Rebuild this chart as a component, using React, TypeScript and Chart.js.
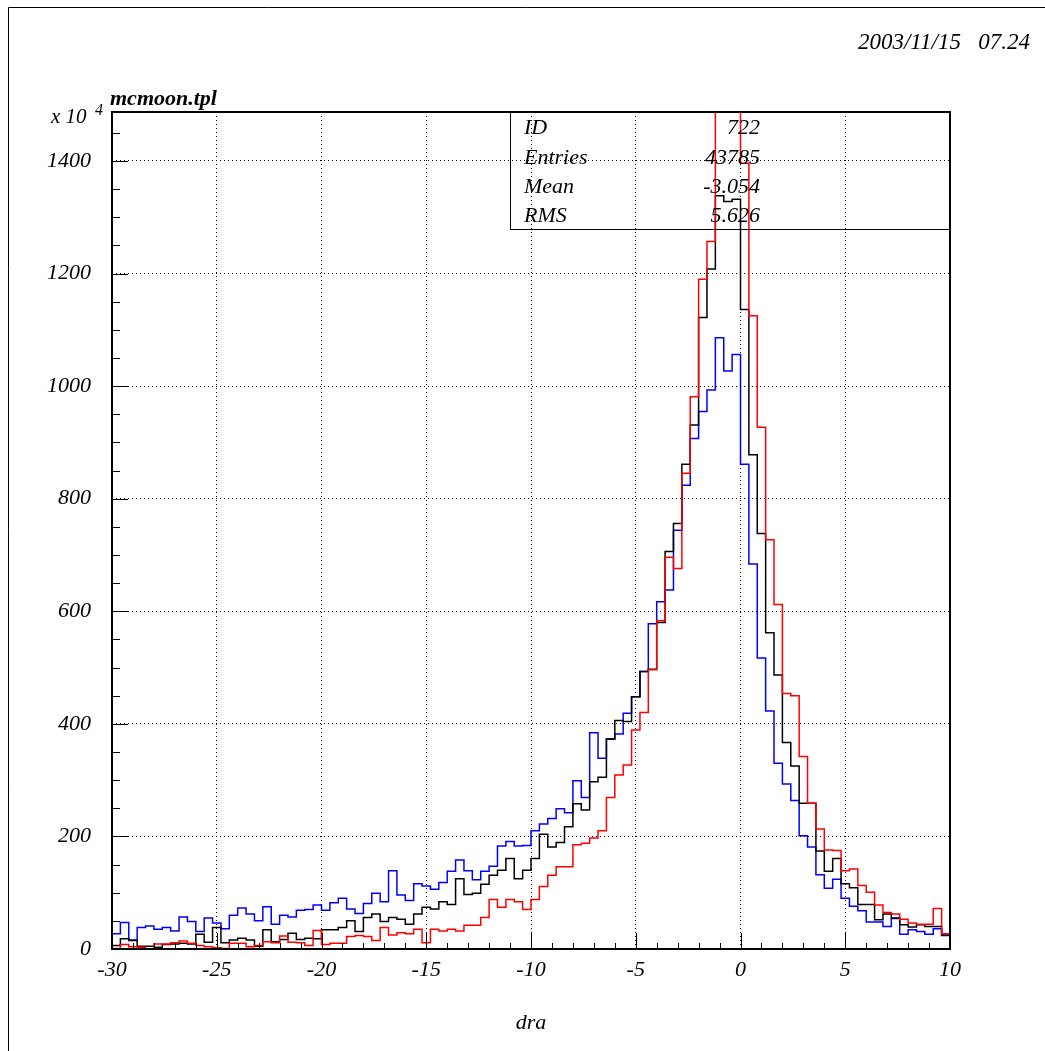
import React, { useEffect, useRef } from 'react';
import { Chart, registerables } from 'chart.js';

Chart.register(...registerables);

// ---- axis definition ----
const X_MIN = -30;
const X_MAX = 10;
const BIN_WIDTH = 0.4;
const Y_MIN = 0;
const Y_MAX = 1487;
const X_TICKS = [-30, -25, -20, -15, -10, -5, 0, 5, 10];
const Y_TICKS = [0, 200, 400, 600, 800, 1000, 1200, 1400];
const X_MINOR_STEP = 1;
const Y_MINOR_STEP = 50;

// ---- histogram contents (100 bins of 0.4 from -30 to 10) ----
const BLUE = [
  27, 47, 16, 38, 41, 35, 38, 32, 57, 49,
  31, 55, 46, 36, 60, 73, 62, 50, 75, 44,
  60, 57, 69, 70, 78, 69, 82, 90, 71, 63,
  81, 99, 84, 139, 96, 86, 116, 112, 106, 118,
  138, 158, 139, 123, 138, 147, 183, 191, 183, 184,
  210, 222, 232, 249, 242, 299, 269, 384, 339, 373,
  382, 419, 448, 493, 578, 617, 638, 744, 824, 907,
  955, 993, 1086, 1027, 1056, 861, 684, 517, 423, 330,
  293, 264, 201, 181, 132, 108, 124, 90, 76, 68,
  48, 48, 40, 54, 26, 34, 31, 26, 36, 24,
];
const BLACK = [
  6, 18, 15, 5, 5, 3, 8, 9, 10, 9,
  26, 12, 38, 11, 16, 19, 16, 5, 34, 13,
  17, 28, 17, 19, 18, 34, 34, 38, 50, 31,
  56, 62, 49, 56, 53, 44, 62, 74, 71, 84,
  79, 125, 97, 99, 115, 131, 140, 161, 125, 140,
  161, 204, 181, 189, 217, 258, 247, 297, 305, 373,
  406, 404, 448, 493, 497, 580, 706, 756, 861, 931,
  1122, 1208, 1338, 1328, 1332, 1136, 878, 738, 562, 487,
  367, 325, 259, 259, 174, 138, 161, 116, 109, 79,
  79, 52, 62, 55, 43, 39, 43, 40, 40, 25,
];
const RED = [
  1, 8, 4, 3, 0, 9, 9, 11, 14, 10,
  6, 4, 2, 1, 10, 10, 4, 6, 13, 11,
  23, 12, 11, 6, 33, 8, 10, 10, 22, 24,
  22, 15, 38, 25, 29, 27, 35, 11, 35, 32,
  35, 32, 42, 42, 56, 88, 74, 88, 84, 70,
  88, 111, 131, 146, 146, 185, 188, 197, 210, 269,
  309, 327, 389, 420, 496, 583, 696, 676, 845, 981,
  1190, 1257, 1600, 1700, 1650, 1396, 1125, 927, 727, 612,
  454, 450, 342, 259, 213, 176, 175, 139, 142, 113,
  101, 78, 65, 62, 53, 46, 44, 44, 72, 27,
];

// ---- texts ----
const TITLE = 'mcmoon.tpl';
const DATE = '2003/11/15   07.24';
const X_TITLE = 'dra';
const EXP_BASE = 'x 10';
const EXP_POWER = '4';
const STATS_LABELS = ['ID', 'Entries', 'Mean', 'RMS'];
const STATS_VALUES = ['722', '43785', '-3.054', '5.626'];

const SERIF = '"Liberation Serif", "Times New Roman", serif';

function histPoints(vals: number[]) {
  const pts: { x: number; y: number }[] = [{ x: X_MIN, y: 0 }];
  vals.forEach((v, i) => pts.push({ x: X_MIN + i * BIN_WIDTH, y: v }));
  pts.push({ x: X_MAX, y: vals[vals.length - 1] });
  pts.push({ x: X_MAX, y: 0 });
  return pts;
}

const decorPlugin = {
  id: 'rootDecor',
  afterDraw(chart: any) {
    const { ctx, chartArea: a, scales } = chart;
    const x = scales.x;
    const y = scales.y;
    ctx.save();
    ctx.strokeStyle = '#000';
    ctx.fillStyle = '#000';

    // outer pad border (left and top)
    ctx.lineWidth = 1;
    ctx.beginPath();
    ctx.moveTo(8.5, chart.height);
    ctx.lineTo(8.5, 7.5);
    ctx.lineTo(chart.width, 7.5);
    ctx.stroke();

    // minor / major ticks, drawn inside the frame
    ctx.lineWidth = 1;
    ctx.beginPath();
    const nY = Math.floor((Y_MAX - Y_MIN) / Y_MINOR_STEP);
    for (let i = 0; i <= nY; i++) {
      const v = Y_MIN + i * Y_MINOR_STEP;
      const py = Math.round(y.getPixelForValue(v)) + 0.5;
      const len = Y_TICKS.includes(v) ? 16 : 8;
      ctx.moveTo(a.left, py);
      ctx.lineTo(a.left + len, py);
    }
    const nX = Math.round((X_MAX - X_MIN) / X_MINOR_STEP);
    for (let i = 0; i <= nX; i++) {
      const v = X_MIN + i * X_MINOR_STEP;
      const px = Math.round(x.getPixelForValue(v)) + 0.5;
      const len = X_TICKS.includes(v) ? 16 : 6;
      ctx.moveTo(px, a.bottom);
      ctx.lineTo(px, a.bottom - len);
    }
    ctx.stroke();

    // frame
    ctx.lineWidth = 2;
    ctx.strokeRect(a.left, a.top, a.right - a.left, a.bottom - a.top);

    // stats box
    ctx.lineWidth = 1;
    ctx.strokeRect(510.5, a.top + 0.5, a.right - 510.5, 117);
    ctx.font = `italic 22px ${SERIF}`;
    ctx.textBaseline = 'alphabetic';
    const rows = [134, 163.5, 192.5, 221.5];
    STATS_LABELS.forEach((lab, i) => {
      ctx.textAlign = 'left';
      ctx.fillText(lab, 524, rows[i]);
      ctx.textAlign = 'right';
      ctx.fillText(STATS_VALUES[i], 760, rows[i]);
    });

    // date
    ctx.textAlign = 'right';
    ctx.font = `italic 23px ${SERIF}`;
    ctx.fillText(DATE, 1030, 49);

    // histogram title
    ctx.textAlign = 'left';
    ctx.font = `italic bold 22px ${SERIF}`;
    ctx.fillText(TITLE, 110, 105);

    // exponent
    ctx.font = `italic 21px ${SERIF}`;
    ctx.fillText(EXP_BASE, 51, 123);
    ctx.font = `italic 16px ${SERIF}`;
    ctx.fillText(EXP_POWER, 95, 115);

    ctx.restore();
  },
};

export default function App() {
  const ref = useRef<HTMLCanvasElement | null>(null);

  useEffect(() => {
    if (!ref.current) return;
    const tickFont = { family: SERIF, style: 'italic' as const, size: 22 };
    const chart = new Chart(ref.current, {
      type: 'line',
      data: {
        datasets: [
          { label: 'red', data: histPoints(RED), borderColor: '#ff0000' },
          { label: 'black', data: histPoints(BLACK), borderColor: '#000000' },
          { label: 'blue', data: histPoints(BLUE), borderColor: '#0000ff' },
        ].map((d) => ({
          ...d,
          stepped: 'before' as const,
          borderWidth: 1.5,
          pointRadius: 0,
          fill: false,
          tension: 0,
        })),
      },
      options: {
        responsive: false,
        animation: false,
        devicePixelRatio: 1,
        events: [],
        layout: { padding: { top: 112, right: 95, left: 0, bottom: 0 } },
        plugins: { legend: { display: false }, tooltip: { enabled: false }, title: { display: false } },
        scales: {
          x: {
            type: 'linear',
            min: X_MIN,
            max: X_MAX,
            afterBuildTicks: (s: any) => {
              s.ticks = X_TICKS.map((v) => ({ value: v }));
            },
            afterFit: (s: any) => {
              s.height = 102;
            },
            ticks: {
              font: tickFont,
              color: '#000',
              padding: 8,
              maxRotation: 0,
              autoSkip: false,
              callback: (v: any) => String(v),
            },
            grid: { color: '#000', lineWidth: 1, drawTicks: false },
            border: { display: false, dash: [1, 3] },
            title: {
              display: true,
              text: X_TITLE,
              color: '#000',
              font: { family: SERIF, style: 'italic', size: 22 },
              padding: { top: 0, bottom: 15 },
            },
          },
          y: {
            type: 'linear',
            min: Y_MIN,
            max: Y_MAX,
            afterBuildTicks: (s: any) => {
              s.ticks = Y_TICKS.map((v) => ({ value: v }));
            },
            afterFit: (s: any) => {
              s.width = 112;
            },
            ticks: {
              font: tickFont,
              color: '#000',
              padding: 21,
              autoSkip: false,
              callback: (v: any) => String(v),
            },
            grid: { color: '#000', lineWidth: 1, drawTicks: false },
            border: { display: false, dash: [1, 3] },
          },
        },
      },
      plugins: [decorPlugin],
    });
    return () => chart.destroy();
  }, []);

  return (
    <div style={{ position: 'absolute', left: 0, top: 0, width: 1045, height: 1051, overflow: 'hidden', background: '#fff' }}>
      <canvas ref={ref} width={1045} height={1051} style={{ display: 'block', width: 1045, height: 1051 }} />
    </div>
  );
}
